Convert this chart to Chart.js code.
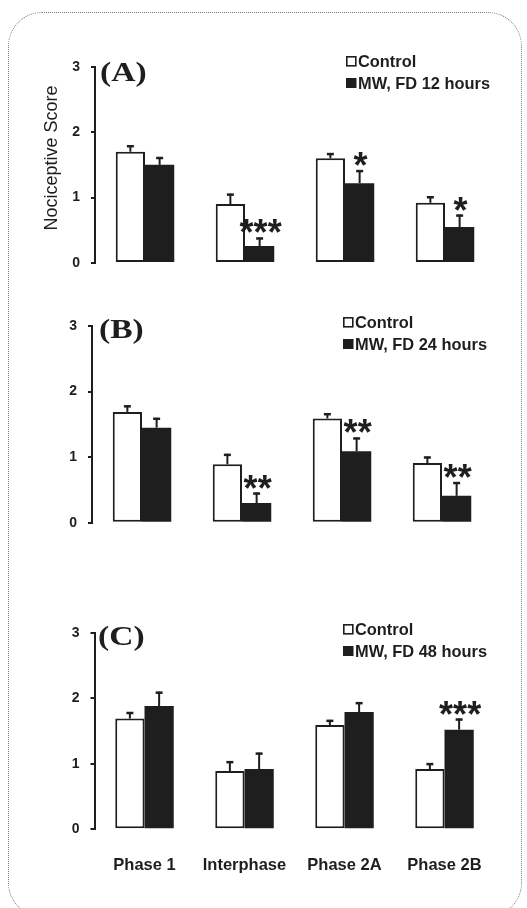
<!DOCTYPE html>
<html>
<head>
<meta charset="utf-8">
<script src="https://cdn.jsdelivr.net/npm/chart.js@4.4.1/dist/chart.umd.min.js"></script>
<style>
  html, body { margin:0; padding:0; background:#fff; }
  body { width:527px; height:908px; position:relative; overflow:hidden; }
  #frame { position:absolute; left:8px; top:12px; width:514px; height:905px; border:1px dotted #7a7a7a; border-radius:34px; box-sizing:border-box; }
  canvas { position:absolute; left:0; }
</style>
</head>
<body>
<div id="frame"></div>
<canvas id="cA" width="527" height="290" style="top:0px;width:527px;height:290px"></canvas>
<canvas id="cB" width="527" height="290" style="top:290px;width:527px;height:290px"></canvas>
<canvas id="cC" width="527" height="328" style="top:580px;width:527px;height:328px"></canvas>
<script>
// ---- data ----
const categories = ['Phase 1', 'Interphase', 'Phase 2A', 'Phase 2B'];
const yTicks = [0, 1, 2, 3];

const controlA = [1.70, 0.90, 1.60, 0.92];
const controlAErr = [0.10, 0.16, 0.08, 0.10];
const mw12 = [1.50, 0.26, 1.22, 0.55];
const mw12Err = [0.12, 0.13, 0.20, 0.19];
const sigA = ['', '***', '*', '*'];

const controlB = [1.69, 0.89, 1.59, 0.91];
const controlBErr = [0.10, 0.16, 0.08, 0.10];
const mw24 = [1.45, 0.30, 1.09, 0.41];
const mw24Err = [0.15, 0.16, 0.21, 0.21];
const sigB = ['', '**', '**', '**'];

const controlC = [1.69, 0.89, 1.59, 0.92];
const controlCErr = [0.10, 0.15, 0.08, 0.09];
const mw48 = [1.88, 0.92, 1.79, 1.52];
const mw48Err = [0.22, 0.25, 0.15, 0.17];
const sigC = ['', '', '', '***'];

// ---- drawing helpers ----
const INK = '#1e1e1e';
const SANS = '"Liberation Sans", Arial, sans-serif';
const SERIF = '"Liberation Serif", "Times New Roman", serif';

const decoPlugin = {
  id: 'panelDeco',
  afterDatasetsDraw(chart, args, o) {
    const ctx = chart.ctx;
    const y = chart.scales.y;
    ctx.save();
    // error bars
    chart.data.datasets.forEach((ds, di) => {
      const meta = chart.getDatasetMeta(di);
      meta.data.forEach((bar, i) => {
        const top = y.getPixelForValue(ds.data[i] + ds.err[i]);
        ctx.strokeStyle = INK;
        ctx.lineWidth = 2;
        ctx.beginPath();
        ctx.moveTo(bar.x, bar.y);
        ctx.lineTo(bar.x, top);
        ctx.stroke();
        ctx.lineWidth = 2.5;
        ctx.beginPath();
        ctx.moveTo(bar.x - 3.5, top + 1);
        ctx.lineTo(bar.x + 3.5, top + 1);
        ctx.stroke();
        if (ds.sig && ds.sig[i]) {
          ctx.fillStyle = INK;
          ctx.font = 'bold 36px ' + SANS;
          ctx.textAlign = 'center';
          ctx.textBaseline = 'alphabetic';
          ctx.fillText(ds.sig[i], bar.x + 1, top + 8);
        }
      });
    });
    // panel label
    ctx.fillStyle = INK;
    ctx.font = 'bold 28px ' + SERIF;
    ctx.textAlign = 'left';
    ctx.textBaseline = 'middle';
    ctx.save();
    ctx.translate(o.labelX, o.labelY);
    ctx.scale(1.2, 1);
    ctx.fillText(o.label, 0, 0);
    ctx.restore();
    // legend
    const lx = o.legendX, ly = o.legendY;
    ctx.lineWidth = 1.6;
    ctx.strokeStyle = INK;
    ctx.strokeRect(lx + 0.8, ly - 4.2, 9, 9);
    ctx.fillRect(lx, ly + 22 - 5, 10.5, 10);
    ctx.font = 'bold 16.4px ' + SANS;
    ctx.textBaseline = 'middle';
    ctx.fillText(chart.data.datasets[0].label, lx + 12, ly + 1);
    ctx.fillText(chart.data.datasets[1].label, lx + 12, ly + 23);
    // y title
    if (o.yTitle) {
      ctx.save();
      ctx.translate(52, 158);
      ctx.rotate(-Math.PI / 2);
      ctx.font = '18px ' + SANS;
      ctx.textAlign = 'center';
      ctx.textBaseline = 'middle';
      ctx.fillText(o.yTitle, 0, 0);
      ctx.restore();
    }
    ctx.restore();
  }
};

function makePanel(id, cfg) {
  const canvas = document.getElementById(id);
  return new Chart(canvas, {
    type: 'bar',
    data: {
      labels: categories,
      datasets: [
        { label: 'Control', data: cfg.control, err: cfg.controlErr, backgroundColor: '#ffffff',
          borderColor: INK, borderWidth: 2, borderSkipped: false,
          categoryPercentage: 0.585, barPercentage: 1.0 },
        { label: cfg.mwLabel, data: cfg.mw, err: cfg.mwErr, sig: cfg.sig, backgroundColor: INK,
          borderColor: INK, borderWidth: 0,
          categoryPercentage: 0.585, barPercentage: 1.0 }
      ]
    },
    options: {
      responsive: false,
      animation: false,
      devicePixelRatio: 1,
      layout: { padding: { top: cfg.padTop, right: cfg.padRight, left: 0, bottom: 0 } },
      plugins: {
        legend: { display: false },
        tooltip: { enabled: false },
        panelDeco: { label: cfg.label, labelX: cfg.labelX, labelY: cfg.labelY,
                     legendX: cfg.legendX, legendY: cfg.legendY, yTitle: cfg.yTitle }
      },
      scales: {
        x: {
          grid: { display: false, drawTicks: false },
          border: { display: false },
          ticks: { display: cfg.showX, color: INK, font: { family: SANS, size: 16.5, weight: 'bold' },
                   padding: 26, maxRotation: 0, minRotation: 0, autoSkip: false },
          afterFit(s) { s.height = cfg.xHeight; }
        },
        y: {
          min: 0, max: 3,
          afterBuildTicks(s) { s.ticks = yTicks.map(v => ({ value: v })); },
          grid: { display: true, drawOnChartArea: false, drawTicks: true, tickLength: 4, color: INK, lineWidth: 2 },
          border: { display: true, color: INK, width: 2 },
          ticks: { color: INK, font: { family: SANS, size: 14, weight: 'bold' }, padding: 11 },
          afterFit(s) { s.width = cfg.yWidth; }
        }
      }
    },
    plugins: [decoPlugin]
  });
}

makePanel('cA', { control: controlA, controlErr: controlAErr, mw: mw12, mwErr: mw12Err, sig: sigA,
  mwLabel: 'MW, FD 12 hours', label: '(A)', labelX: 100, labelY: 74, legendX: 346, legendY: 61,
  yTitle: 'Nociceptive Score', padTop: 66.7, padRight: 32, yWidth: 95, xHeight: 27, showX: false });

makePanel('cB', { control: controlB, controlErr: controlBErr, mw: mw24, mwErr: mw24Err, sig: sigB,
  mwLabel: 'MW, FD 24 hours', label: '(B)', labelX: 99, labelY: 41, legendX: 343, legendY: 32,
  yTitle: null, padTop: 36, padRight: 35, yWidth: 92, xHeight: 57.3, showX: false });

makePanel('cC', { control: controlC, controlErr: controlCErr, mw: mw48, mwErr: mw48Err, sig: sigC,
  mwLabel: 'MW, FD 48 hours', label: '(C)', labelX: 98, labelY: 58, legendX: 343, legendY: 49,
  yTitle: null, padTop: 52.7, padRight: 32.5, yWidth: 94.5, xHeight: 78.7, showX: true });
</script>
</body>
</html>
